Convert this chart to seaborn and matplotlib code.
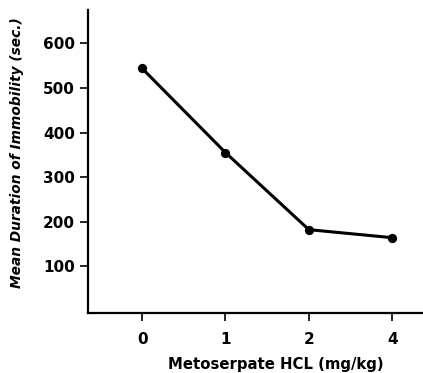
import matplotlib
matplotlib.use("Agg")
import matplotlib.pyplot as plt
import seaborn as sns

# Data
doses = ["0", "1", "2", "4"]
immobility = [544, 355, 182, 164]
y_ticks = [100, 200, 300, 400, 500, 600]

sns.set_style("ticks")
plt.rcParams['font.family'] = ['DejaVu Sans']

fig = plt.figure(figsize=(4.23, 3.73), dpi=100)
ax = fig.add_axes([0.208, 0.161, 0.792, 0.812])

sns.pointplot(x=doses, y=immobility, color="black", errorbar=None,
              markers="o", linestyles="-", markersize=5, linewidth=2.2, ax=ax)

ax.set_xlim(-0.65, 3.37)
ax.set_ylim(-5, 675)
ax.set_yticks(y_ticks)
ax.set_xticks(range(len(doses)))
ax.set_xticklabels(doses)

for side in ["top", "right"]:
    ax.spines[side].set_visible(False)
for side in ["left", "bottom"]:
    ax.spines[side].set_linewidth(1.6)
    ax.spines[side].set_color("black")

ax.tick_params(axis="both", direction="out", length=6, width=1.2,
               colors="black", labelsize=11)
ax.tick_params(axis="x", pad=8)
for lbl in ax.get_xticklabels() + ax.get_yticklabels():
    lbl.set_fontweight("bold")

ax.set_xlabel("Metoserpate HCL (mg/kg)", fontsize=10.7, fontweight="bold",
              color="black")
ax.set_ylabel("Mean Duration of Immobility (sec.)", fontsize=9.9,
              fontweight="bold", fontstyle="italic", color="black")
ax.xaxis.set_label_coords(0.56, -0.147)
ax.yaxis.set_label_coords(-0.19, 0.53)

fig.savefig("out.png", dpi=100)
